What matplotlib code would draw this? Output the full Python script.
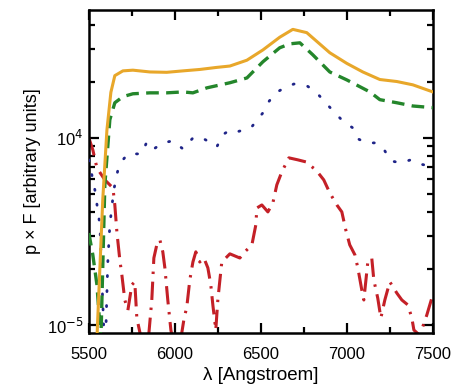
import numpy as np
import matplotlib
matplotlib.use("Agg")
import matplotlib.pyplot as plt
from matplotlib.ticker import FixedLocator, FixedFormatter, LogLocator, NullFormatter, MultipleLocator

plt.rcParams['font.family'] = ['Liberation Sans', 'DejaVu Sans']

# polarised flux p x F, in units of 1e-5
SCALE = 1e-5

# solid (orange) model
wl_a = [5547, 5581, 5605, 5628, 5651, 5698, 5756, 5855, 5953, 6047, 6145, 6244, 6320,
        6419, 6512, 6610, 6686, 6767, 6901, 7000, 7093, 7192, 7291, 7384, 7500]
pf_a = [0.85, 4.7, 11.0, 17.5, 21.5, 22.8, 23.0, 22.5, 22.4, 22.8, 23.2, 23.8, 24.2,
        26.0, 29.5, 34.5, 38.0, 36.5, 28.5, 25.0, 22.5, 20.5, 20.0, 19.2, 17.6]

# dashed (green) model
wl_b = [5500, 5523, 5547, 5570, 5593, 5622, 5651, 5698, 5756, 5855, 5953, 6047, 6105, 6186,
        6320, 6419, 6512, 6610, 6669, 6727, 6802, 6901, 7000, 7134, 7192, 7291, 7384, 7500]
pf_b = [3.10, 2.37, 1.64, 0.83, 5.61, 12.5, 15.4, 16.6, 17.2, 17.4, 17.4, 17.6, 17.4, 18.5,
        19.7, 20.9, 25.5, 30.3, 31.8, 32.2, 27.8, 22.5, 20.4, 17.6, 16.0, 15.4, 14.8, 14.5]

# dotted (blue) model
wl_c = [5500, 5535, 5564, 5576, 5587, 5593, 5599, 5610, 5622, 5645, 5669, 5698, 5727, 5808,
        5837, 5878, 5930, 5988, 6047, 6110, 6168, 6221, 6244, 6279, 6320, 6366, 6442, 6512,
        6541, 6587, 6628, 6692, 6767, 6820, 6872, 6924, 6977, 7035, 7064, 7116, 7174, 7221,
        7256, 7314, 7372, 7419, 7483]
pf_c = [7.63, 5.27, 3.43, 1.74, 0.94, 0.78, 0.94, 2.15, 3.43, 5.27, 6.74, 7.63, 8.21, 8.21,
        9.52, 8.73, 9.40, 9.64, 8.73, 10.1, 9.88, 9.29, 8.95, 10.4, 11.0, 10.8, 11.3, 13.6,
        15.4, 17.4, 18.3, 19.4, 19.0, 17.6, 15.6, 13.8, 12.3, 11.3, 9.88, 9.40, 9.40, 8.52,
        7.53, 7.35, 7.63, 7.26, 7.08]

# dash-dot (red) model
wl_d = [5500, 5523, 5547, 5593, 5640, 5651, 5663, 5680, 5692, 5709, 5727, 5750, 5767, 5779,
        5797, 5814, 5843, 5866, 5878, 5895, 5913, 5930, 5942, 5959, 5977, 5994, 6029, 6052,
        6070, 6087, 6105, 6122, 6145, 6169, 6192, 6209, 6221, 6238, 6250, 6262, 6273, 6320,
        6378, 6407, 6448, 6471, 6477, 6506, 6541, 6570, 6593, 6622, 6663, 6715, 6762, 6797,
        6820, 6843, 6866, 6901, 6942, 6971, 6994, 7017, 7047, 7064, 7087, 7099, 7122, 7145,
        7157, 7180, 7198, 7221, 7250, 7291, 7320, 7355, 7378, 7390, 7424, 7465, 7494]
pf_d = [10.0, 8.63, 6.91, 5.96, 5.40, 4.38, 3.14, 2.23, 1.85, 1.36, 1.20, 1.64, 1.70, 1.09,
        0.91, 0.78, 0.78, 1.36, 2.28, 2.68, 2.85, 2.46, 2.02, 1.36, 0.94, 0.78, 0.78, 1.06,
        1.26, 1.74, 2.17, 2.46, 2.17, 2.28, 2.02, 1.64, 1.28, 0.94, 1.36, 1.74, 2.17, 2.40,
        2.28, 2.46, 2.68, 3.43, 4.22, 4.38, 4.02, 4.49, 5.61, 6.58, 7.82, 7.63, 7.44, 7.00,
        6.74, 6.34, 5.96, 5.08, 4.38, 4.02, 3.22, 2.68, 2.37, 2.02, 1.54, 1.36, 2.17, 2.28,
        1.74, 1.39, 1.09, 1.36, 1.70, 1.48, 1.36, 1.28, 1.09, 0.94, 0.88, 1.13, 1.39]

ytick_vals = [1e-5, 1e-4]
ytick_text = ["10$^{-5}$", "10$^{4}$"]

fig = plt.figure(figsize=(4.58, 3.87), dpi=100)
ax = fig.add_axes([0.194, 0.1395, 0.751, 0.835])

ax.plot(wl_d, np.array(pf_d) * SCALE, color="#c42027", lw=2.2,
        dashes=(6, 2.5, 0.8, 2.5), zorder=2)
ax.plot(wl_c, np.array(pf_c) * SCALE, color="#1f2488", lw=2.0,
        linestyle=(0, (0.4, 5.0)), dash_capstyle="round", zorder=3)
ax.plot(wl_b, np.array(pf_b) * SCALE, color="#24862b", lw=2.4,
        dashes=(3.8, 2.2), zorder=4)
ax.plot(wl_a, np.array(pf_a) * SCALE, color="#e8a72a", lw=2.2, zorder=5)

ax.set_yscale("log")
ax.set_xlim(5500, 7500)
ax.set_ylim(9.06e-6, 4.83e-4)

ax.xaxis.set_major_locator(MultipleLocator(500))
ax.xaxis.set_minor_locator(MultipleLocator(250))
ax.yaxis.set_major_locator(FixedLocator(ytick_vals))
ax.yaxis.set_major_formatter(FixedFormatter(ytick_text))
ax.yaxis.set_minor_locator(LogLocator(base=10, subs=np.arange(2, 10)))
ax.yaxis.set_minor_formatter(NullFormatter())

ax.tick_params(which="both", direction="in", top=True, right=True, width=1.6,
               labelsize=12, colors="black")
ax.tick_params(which="major", length=7, pad=4)
ax.tick_params(which="minor", length=4)
ax.tick_params(axis="x", which="major", pad=10)
for s in ax.spines.values():
    s.set_linewidth(1.8)

ax.set_xlabel("λ [Angstroem]", fontsize=13.5, labelpad=4)
ax.set_ylabel("p × F [arbitrary units]", fontsize=13, labelpad=4)

fig.savefig("out.png", dpi=100)
